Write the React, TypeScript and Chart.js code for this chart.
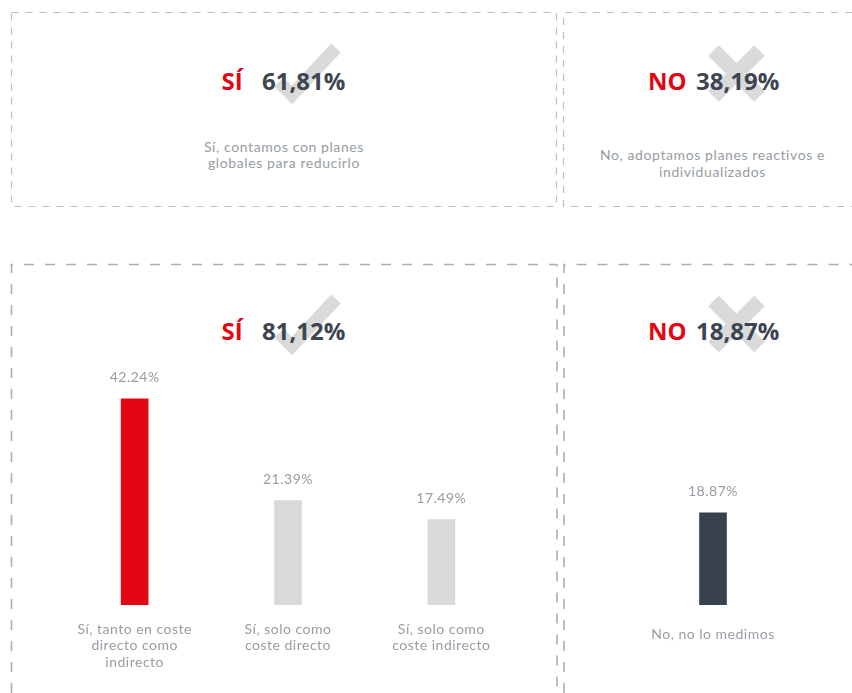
import React, { useEffect, useRef } from "react";
import { Chart, registerables } from "chart.js";

Chart.register(...registerables);

// ---- data ----
const headingWords = ["SÍ", "NO", "SÍ", "NO"];
const headingValues = ["61,81%", "38,19%", "81,12%", "18,87%"];
const topSubtitleYes = ["Sí, contamos con planes", "globales para reducirlo"];
const topSubtitleNo = ["No, adoptamos planes reactivos e", "individualizados"];

const yesCategories = [
  ["Sí, tanto en coste", "directo como", "indirecto"],
  ["Sí, solo como", "coste directo"],
  ["Sí, solo como", "coste indirecto"],
];
const yesValues = [42.24, 21.39, 17.49];
const yesColors = ["#e30613", "#d9d9d9", "#d9d9d9"];

const noCategories = [["No, no lo medimos"]];
const noValues = [18.87];
const noColors = ["#38434f"];

const Y_MAX = 50;

// ---- styles ----
const RED = "#e30613";
const DARK = "#3c4551";
const GRAY_TEXT = "#979ca3";
const MARK = "#dadada";
const FONT = "Lato, 'Open Sans', sans-serif";

const labelPlugin = {
  id: "barLabels",
  afterDatasetsDraw(chart: any, _args: any, opts: any) {
    const ctx = chart.ctx;
    const meta = chart.getDatasetMeta(0);
    const ds = chart.data.datasets[0];
    const xScale = chart.scales.x;
    const area = chart.chartArea;
    ctx.save();
    ctx.fillStyle = GRAY_TEXT;
    ctx.font = `400 14px ${FONT}`;
    (ctx as any).letterSpacing = "0.5px";
    ctx.textAlign = "center";
    ctx.textBaseline = "alphabetic";
    meta.data.forEach((bar: any, i: number) => {
      const v = ds.data[i] as number;
      ctx.fillText(v.toFixed(2) + "%", bar.x, bar.y - 16.5);
      const lines: string[] = chart.data.labels[i];
      const cx = xScale.getPixelForValue(i);
      lines.forEach((ln, k) => {
        ctx.fillText(ln, cx, area.bottom + opts.offset + k * 16.5);
      });
    });
    ctx.restore();
  },
};

function BarPanel(props: {
  labels: string[][];
  values: number[];
  colors: string[];
  left: number;
  width: number;
  offset: number;
}) {
  const ref = useRef<HTMLCanvasElement>(null);
  useEffect(() => {
    if (!ref.current) return;
    const chart = new Chart(ref.current, {
      type: "bar",
      data: {
        labels: props.labels as any,
        datasets: [
          {
            data: props.values,
            backgroundColor: props.colors,
            borderWidth: 0,
            barThickness: 27,
          },
        ],
      },
      options: {
        responsive: false,
        animation: false,
        layout: { padding: { top: 6, bottom: 88, left: 0, right: 0 } },
        plugins: {
          legend: { display: false },
          tooltip: { enabled: false },
          barLabels: { offset: props.offset },
        } as any,
        scales: {
          x: { display: false },
          y: { display: false, min: 0, max: Y_MAX },
        },
      },
      plugins: [labelPlugin],
    });
    return () => chart.destroy();
  }, []);
  return (
    <canvas
      ref={ref}
      width={props.width}
      height={338}
      style={{ position: "absolute", left: props.left, top: 355, width: props.width, height: 338 }}
    />
  );
}

function Check({ dy }: { dy: number }) {
  return (
    <polyline
      points={`279,${82 + dy} 292,${95 + dy} 336,${48 + dy}`}
      fill="none"
      stroke={MARK}
      strokeWidth={13}
      strokeLinejoin="miter"
      strokeLinecap="butt"
    />
  );
}

function Cross({ cx, cy }: { cx: number; cy: number }) {
  const d = 23;
  return (
    <g stroke={MARK} strokeWidth={15} strokeLinecap="butt">
      <line x1={cx - d} y1={cy - d} x2={cx + d} y2={cy + d} />
      <line x1={cx - d} y1={cy + d} x2={cx + d} y2={cy - d} />
    </g>
  );
}

function Heading({ word, value, wx, vx, y }: { word: string; value: string; wx: number; vx: number; y: number }) {
  const style = { fontFamily: "'Open Sans', sans-serif", fontWeight: 700, fontSize: 24 } as any;
  return (
    <g>
      <text x={wx} y={y} fill={RED} style={style}>{word}</text>
      <text x={vx} y={y} fill={DARK} style={style}>{value}</text>
    </g>
  );
}

export default function App() {
  const topDash = { stroke: "#babec4", strokeWidth: 1.2, strokeDasharray: "7 7", fill: "none" } as any;
  const botDash = { stroke: "#a9aeb5", strokeWidth: 1.6, strokeDasharray: "10 11", fill: "none" } as any;
  const subStyle = { fontFamily: FONT, fontSize: 14, fontWeight: 400, letterSpacing: "0.6px" } as any;
  return (
    <div style={{ position: "absolute", left: 0, top: 0, width: 852, height: 693, background: "#fff", overflow: "hidden" }}>
      <svg width={852} height={693} style={{ position: "absolute", left: 0, top: 0 }}>
        {/* top boxes */}
        <path d="M11.5 12.5 H556.5 V206.5 H11.5 Z" style={topDash} />
        <path d="M852 12.5 H563.5 V206.5 H852" style={topDash} />
        {/* bottom boxes */}
        <path d="M11.5 693 V264.5 H557 V693" style={botDash} />
        <path d="M564 693 V264.5 H852" style={botDash} />

        {/* marks */}
        <Check dy={0} />
        <Check dy={251} />
        <Cross cx={736.5} cy={73.5} />
        <Cross cx={736.5} cy={324} />

        {/* headings */}
        <Heading word={headingWords[0]} value={headingValues[0]} wx={221.5} vx={262} y={90} />
        <Heading word={headingWords[1]} value={headingValues[1]} wx={648} vx={696} y={90} />
        <Heading word={headingWords[2]} value={headingValues[2]} wx={221.5} vx={262} y={340} />
        <Heading word={headingWords[3]} value={headingValues[3]} wx={648} vx={696} y={340} />

        {/* subtitles */}
        {topSubtitleYes.map((t, i) => (
          <text key={"y" + i} x={284} y={151.5 + i * 16.5} textAnchor="middle" fill={GRAY_TEXT} style={subStyle}>{t}</text>
        ))}
        {topSubtitleNo.map((t, i) => (
          <text key={"n" + i} x={712.5} y={160 + i * 16.5} textAnchor="middle" fill={GRAY_TEXT} style={subStyle}>{t}</text>
        ))}
      </svg>
      <BarPanel labels={yesCategories} values={yesValues} colors={yesColors} left={58} width={460} offset={28.5} />
      <BarPanel labels={noCategories} values={noValues} colors={noColors} left={640} width={146} offset={33.5} />
    </div>
  );
}
